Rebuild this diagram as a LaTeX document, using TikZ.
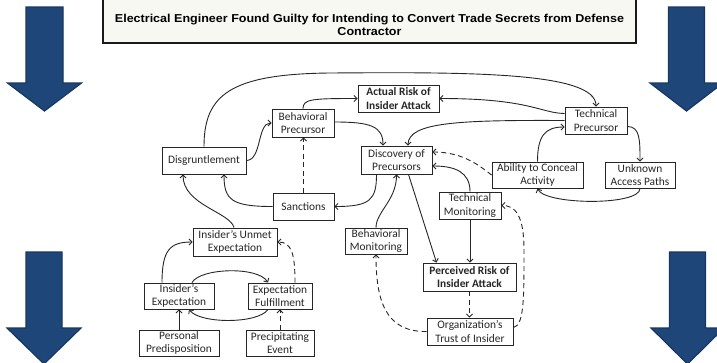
\documentclass[tikz,border=0pt]{standalone}
\usepackage{fontspec}
\usepackage{graphicx}
\setmainfont{Carlito}
\newfontfamily\headfont{Liberation Sans}
\usetikzlibrary{arrows.meta,calc}
\definecolor{arrowblue}{HTML}{1F4678}
\definecolor{arrowedge}{HTML}{163760}
\definecolor{titlefill}{HTML}{F8F8F2}
\begin{document}
\begin{tikzpicture}[x=1pt,y=-1pt,
  box/.style={draw=black!85, line width=0.9pt, fill=white, inner sep=0pt, align=center,
    text=black!85, font=\fontsize{11.4}{13.2}\selectfont},
  boldbox/.style={box, font=\fontsize{11.4}{13.2}\selectfont\bfseries},
  link/.style={line width=0.9pt, draw=black!85, -{Straight Barb[length=3pt,width=6pt]}},
  dlink/.style={link, dash pattern=on 5pt off 3.5pt},
  bigarrow/.style={fill=arrowblue, draw=arrowedge, line width=1.2pt, line join=miter},
  titlebox/.style={fill=titlefill, draw=black!90, line width=1.8pt}]
\useasboundingbox (0,0) rectangle (717,362);

% big down arrows in the four corners
\draw[bigarrow] (26,7) -- (63,7) -- (63,83) -- (81.5,83) -- (44.5,111) -- (7.5,83) -- (26,83) -- cycle;
\draw[bigarrow] (668.5,7) -- (704.5,7) -- (704.5,83) -- (723,83) -- (686.5,111) -- (650,83) -- (668.5,83) -- cycle;
\draw[bigarrow] (26,252) -- (62,252) -- (62,328) -- (81,328) -- (44,364) -- (7,328) -- (26,328) -- cycle;
\draw[bigarrow] (669.5,252) -- (705.5,252) -- (705.5,328) -- (724,328) -- (687.5,364) -- (651,328) -- (669.5,328) -- cycle;

% heading
\draw[titlebox] (103,-6) rectangle (636,43);
\node[font=\headfont\bfseries\fontsize{11.5}{13}\selectfont, text=black] (title) at (369.5,26.5)
  {\scalebox{1.09}[1]{\begin{tabular}{@{}c@{}}Electrical Engineer Found Guilty for Intending to Convert Trade Secrets from Defense\\Contractor\end{tabular}}};

% boxes
\node[boldbox, minimum width=81, minimum height=27] (ar) at (398.5,98.5) {Actual Risk of\\Insider Attack};
\node[box, minimum width=62, minimum height=27] (tp) at (596,120.5) {Technical\\Precursor};
\node[box, minimum width=71, minimum height=28] (disc) at (396.5,160) {Discovery of\\Precursors};
\node[box, minimum width=91, minimum height=26] (abl) at (537.5,175) {Ability to Conceal\\Activity};
\node[box, minimum width=70, minimum height=26] (unk) at (640,175) {Unknown\\Access Paths};
\node[box, minimum width=62, minimum height=27] (tm) at (470,205.5) {Technical\\Monitoring};
\node[box, minimum width=62, minimum height=28] (bp) at (303,123) {Behavioral\\Precursor};
\node[box, minimum width=84, minimum height=27] (dis) at (204,160.5) {Disgruntlement};
\node[box, minimum width=61, minimum height=27] (san) at (303.5,206.5) {Sanctions};
\node[box, minimum width=84, minimum height=28] (unm) at (235,242) {Insider’s Unmet\\Expectation};
\node[box, minimum width=70, minimum height=26] (ie) at (179,296) {Insider’s\\Expectation};
\node[box, minimum width=64, minimum height=26] (ef) at (280,296) {Expectation\\Fulfillment};
\node[box, minimum width=80, minimum height=26] (pp) at (179,343) {Personal\\Predisposition};
\node[box, minimum width=68, minimum height=26] (pe) at (280,343) {Precipitating\\Event};
\node[box, minimum width=62, minimum height=26] (bm) at (376,241) {Behavioral\\Monitoring};
\node[boldbox, minimum width=93, minimum height=28] (pr) at (469.5,277) {Perceived Risk of\\Insider Attack};
\node[box, minimum width=86, minimum height=27] (org) at (470,331.5) {Organization’s\\Trust of Insider};

% connectors
\draw[link] (dis.north) .. controls (204,95) and (230,74) .. (330,73) .. controls (470,72) and (596,72) .. (tp.north);
\draw[link] (dis.east) .. controls (262,160) and (257,123) .. (bp.west);
\draw[link] (bp.north) .. controls (303,99) and (312,98.5) .. (ar.west);
\draw[link] ([yshift=1pt]bp.east) .. controls (370,122) and (383,126) .. ([xshift=-13.5pt]disc.north);
\draw[dlink] (san.north) -- (san.north |- bp.south);
\draw[link] (san.west) .. controls (232,206.5) and (224,200) .. ([xshift=20pt]dis.south);
\draw[link] ([xshift=-20pt]disc.south) .. controls (376.5,200) and (370,206.5) .. (san.east);
\draw[link] ([yshift=7pt]tp.west) .. controls (540,113) and (530,98.5) .. (ar.east);
\draw[link] (tp.west) .. controls (460,120) and (408,122) .. ([xshift=11.5pt]disc.north);
\draw[link] ([yshift=-6pt]tp.east) .. controls (640,126.5) and (640,140) .. (unk.north);
\draw[link] (abl.north) .. controls (537.5,136) and (545,127) .. ([yshift=-6.5pt]tp.west);
\draw[link] (unk.south) .. controls (640,206) and (545,205) .. (abl.south);
\draw[dlink] (abl.west) .. controls (482,168) and (465,152) .. ([yshift=8pt]disc.east);
\draw[link] (tm.north) .. controls (470,172) and (455,166) .. ([yshift=-6pt]disc.east);
\draw[link] (bm.north) .. controls (376,212) and (396.5,200) .. (disc.south);
\draw[link] ([xshift=12pt]disc.south) -- ([xshift=-33pt]pr.north);
\draw[link] (tm.south) -- (tm.south |- pr.north);
\draw[dlink] (pr.south) -- (pr.south |- org.north);
\draw[dlink] (org.west) .. controls (385,332) and (376,300) .. (bm.south);
\draw[dlink] ([yshift=4pt]org.east) .. controls (524,325) and (524,300) .. (524,250) .. controls (524,215) and (515,205.5) .. (tm.east);
\draw[link] ([xshift=-1pt]unm.north) .. controls (230,212) and (183,205) .. ([xshift=-21pt]dis.south);
\draw[link] ([xshift=-17pt]ie.north) .. controls (162,250) and (170,242) .. (unm.west);
\draw[link] ([xshift=13pt]ie.north) .. controls (200,268) and (258,266) .. ([xshift=-12pt]ef.north);
\draw[link] ([xshift=-12pt]ef.south) .. controls (258,324) and (200,324) .. ([xshift=10pt]ie.south);
\draw[dlink] ([xshift=15pt]ef.north) .. controls (295,255) and (292,242) .. (unm.east);
\draw[link] (pp.north) -- (ie.south);
\draw[dlink] (pe.north) -- (ef.south);
\end{tikzpicture}
\end{document}
